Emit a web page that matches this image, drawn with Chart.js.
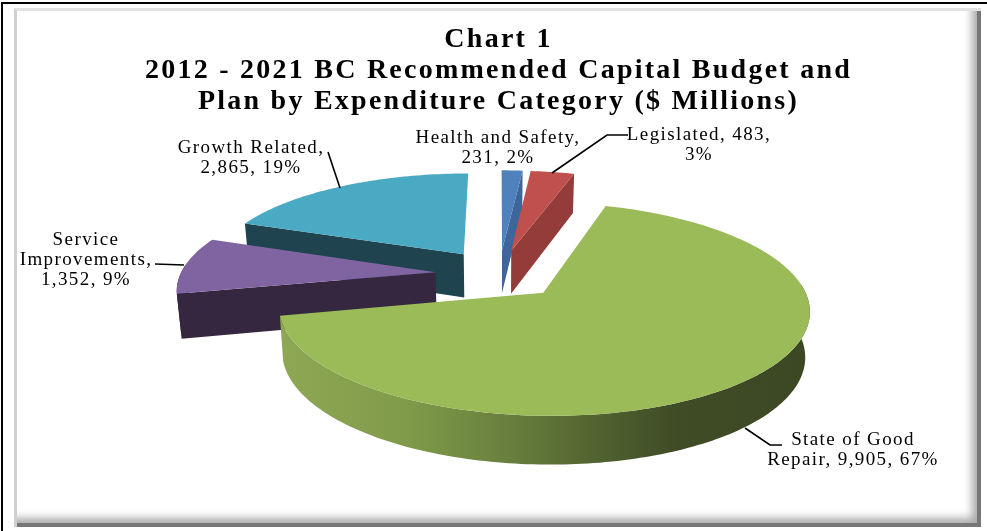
<!DOCTYPE html>
<html>
<head>
<meta charset="utf-8">
<title>Chart 1</title>
<script src="https://cdn.jsdelivr.net/npm/chart.js@4"></script>
<style>
  html, body { margin: 0; padding: 0; background: #fff; overflow: hidden; }
  #page { position: relative; width: 987px; height: 531px; background: #fff; overflow: hidden; }
  #rule-top { position: absolute; left: 1px; right: 0; top: 2px; height: 2px; background: #000; }
  #rule-left { position: absolute; left: 1px; top: 2px; bottom: 0; width: 2px; background: #000; }
  #bevel {
    position: absolute; left: 14px; top: 8px; width: 967px; height: 519px; box-sizing: border-box;
    border-left: 3px solid #d0d0d0; border-top: 3px solid #e2e2e2;
    box-shadow: inset -5px -5px 0 -1px #777, inset -13px -13px 9px -4px #aaa;
  }
  canvas { position: absolute; left: 0; top: 0; }
</style>
</head>
<body>
<div id="page">
  <div id="rule-top"></div>
  <div id="rule-left"></div>
  <div id="bevel"></div>
  <canvas id="budgetChart" width="987" height="531"></canvas>
</div>
<script>
const titleLines = ['Chart 1', '2012 - 2021 BC Recommended Capital Budget and', 'Plan by Expenditure Category ($ Millions)'];
const categories = ['Health and Safety', 'Legislated', 'State of Good Repair', 'Service Improvements', 'Growth Related'];
const spending = [231, 483, 9905, 1352, 2865];
const topColors = ['#4f81bd', '#c0504d', '#9bbb59', '#8064a2', '#4aa9c3'];
const wallColors = ['#3f669b', '#943c3a', '#5d7237', '#35273f', '#1f4450'];
const sliceLabels = [
  ['Health and Safety,', '231, 2%'],
  ['Legislated, 483,', '3%'],
  ['State of Good', 'Repair, 9,905, 67%'],
  ['Service', 'Improvements,', '1,352, 9%'],
  ['Growth Related,', '2,865, 19%']
];

// where each label sits: centre x, first baseline, and its leader line
const labelSpots = [
  { x: 498, y: 143, leader: null },
  { x: 699, y: 140, leader: [[628, 135], [607, 135], [552, 173]] },
  { x: 853, y: 445, leader: [[745, 428], [770, 445], [782, 445]] },
  { x: 86, y: 245, leader: [[155, 264], [184, 265]] },
  { x: 251, y: 153, leader: [[328, 152], [340, 188]] }
];

// tilted pie geometry
const pie = { cx: 499, cy: 274, rx: 255, ry: 98.5, persp: 0.15, explode: 0.25 };
const paintOrder = [4, 0, 1, 3, 2];

function project(gx, gy) {
  const f = 1 / (1 - pie.persp * gy);
  return [pie.cx + gx * pie.rx * f, pie.cy + gy * pie.ry * f];
}

// same ground point on the underside of the slab
function lower(gx, gy) {
  const p = project(gx, gy);
  return [pie.cx + (p[0] - pie.cx) * 0.985, p[1] + 44 + 4 * gy];
}

function tracePoly(ctx, pts) {
  ctx.beginPath();
  pts.forEach((p, i) => i ? ctx.lineTo(p[0], p[1]) : ctx.moveTo(p[0], p[1]));
  ctx.closePath();
}

function drawSlice(ctx, arc, index) {
  const mid = (arc.startAngle + arc.endAngle) / 2;
  const ox = Math.cos(mid) * pie.explode;
  const oy = Math.sin(mid) * pie.explode;
  const rim = [];
  const steps = Math.max(2, Math.ceil((arc.endAngle - arc.startAngle) / 0.02));
  for (let i = 0; i <= steps; i++) {
    const a = arc.startAngle + (arc.endAngle - arc.startAngle) * i / steps;
    rim.push({ a: a, x: ox + Math.cos(a), y: oy + Math.sin(a) });
  }

  let side = wallColors[index];
  if (categories[index] === 'State of Good Repair') {
    side = ctx.createLinearGradient(277, 0, 810, 0);
    side.addColorStop(0, '#8fa856');
    side.addColorStop(0.25, '#7f9a49');
    side.addColorStop(0.45, '#667d3c');
    side.addColorStop(0.65, '#4a5b2c');
    side.addColorStop(0.75, '#3f4c26');
    side.addColorStop(1, '#3c4824');
  }
  ctx.fillStyle = side;

  // radial faces, only the ones turned towards the viewer
  const first = rim[0];
  const last = rim[rim.length - 1];
  if (Math.cos(first.a) < -0.001) {
    tracePoly(ctx, [project(ox, oy), project(first.x, first.y), lower(first.x, first.y), lower(ox, oy)]);
    ctx.fill();
  }
  if (Math.cos(last.a) > 0.001) {
    tracePoly(ctx, [project(ox, oy), project(last.x, last.y), lower(last.x, last.y), lower(ox, oy)]);
    ctx.fill();
  }

  // curved outer wall, front half of the rim only
  const front = rim.filter(p => Math.sin(p.a) > -0.1);
  if (front.length > 1) {
    tracePoly(ctx, front.map(p => project(p.x, p.y)).concat(front.slice().reverse().map(p => lower(p.x, p.y))));
    ctx.fill();
  }

  // top face
  tracePoly(ctx, [project(ox, oy)].concat(rim.map(p => project(p.x, p.y))));
  ctx.fillStyle = arc.options.backgroundColor;
  ctx.fill();
}

function drawLabels(ctx) {
  ctx.save();
  ctx.fillStyle = '#000';
  ctx.strokeStyle = '#000';
  ctx.lineWidth = 1.6;
  ctx.font = '19px "Liberation Serif"';
  ctx.letterSpacing = '1.4px';
  ctx.textAlign = 'center';
  ctx.textBaseline = 'alphabetic';
  sliceLabels.forEach((lines, i) => {
    const spot = labelSpots[i];
    lines.forEach((line, n) => ctx.fillText(line, spot.x, spot.y + n * 20));
    if (spot.leader) {
      ctx.beginPath();
      spot.leader.forEach((p, k) => k ? ctx.lineTo(p[0], p[1]) : ctx.moveTo(p[0], p[1]));
      ctx.stroke();
    }
  });
  ctx.restore();
}

const tiltedPie = {
  id: 'tiltedPie',
  beforeDraw(chart) {
    chart.ctx.letterSpacing = '2.25px';
  },
  beforeDatasetsDraw(chart) {
    const ctx = chart.ctx;
    const arcs = chart.getDatasetMeta(0).data;
    ctx.save();
    paintOrder.forEach(i => drawSlice(ctx, arcs[i], i));
    ctx.restore();
    drawLabels(ctx);
    // the slab replaces the flat arcs
    return false;
  }
};

new Chart(document.getElementById('budgetChart').getContext('2d'), {
  type: 'pie',
  data: {
    labels: categories,
    datasets: [{ data: spending, backgroundColor: topColors, borderWidth: 0 }]
  },
  options: {
    responsive: false,
    animation: false,
    layout: { padding: { left: 10 } },
    plugins: {
      legend: { display: false },
      tooltip: { enabled: false },
      title: {
        display: true,
        text: titleLines,
        color: '#000',
        padding: { top: 24, bottom: 0 },
        font: { family: '"Liberation Serif"', size: 28, weight: 'bold', lineHeight: 1.11 }
      }
    }
  },
  plugins: [tiltedPie]
});
</script>
</body>
</html>
